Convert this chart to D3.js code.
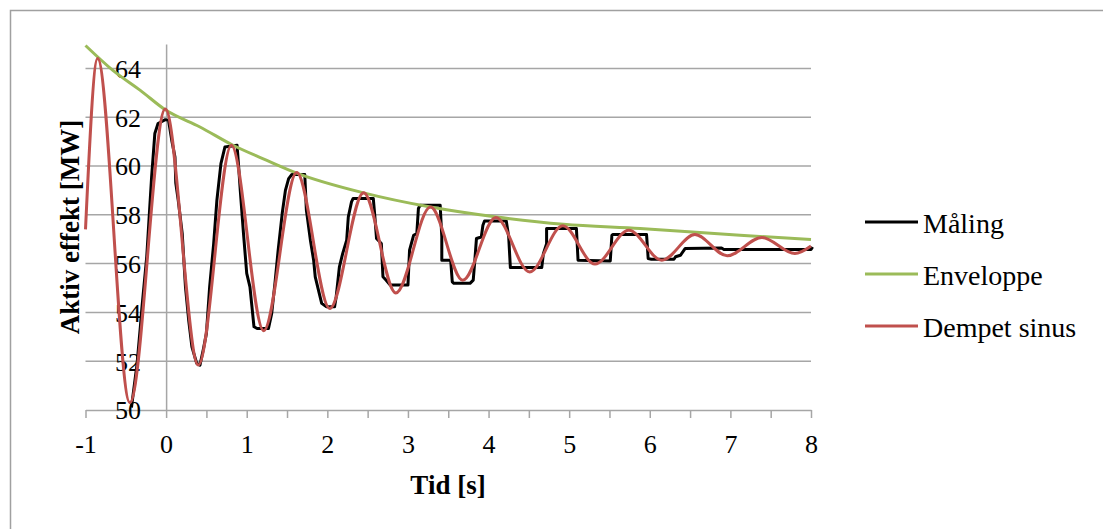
<!DOCTYPE html>
<html>
<head>
<meta charset="utf-8">
<script src="https://cdn.jsdelivr.net/npm/d3@7"></script>
<style>
  body { margin: 0; background: #fff; }
  text { font-family: "Liberation Serif", serif; fill: #000; }
</style>
</head>
<body>
<svg id="chart"></svg>
<script>
// Måling (measured, sample & hold look)
const malingT = [-0.43, -0.36, -0.32, -0.30, -0.24, -0.18, -0.14, -0.10, -0.01, 0.03, 0.07, 0.11, 0.12, 0.15,
  0.20, 0.24, 0.28, 0.32, 0.38, 0.42, 0.46, 0.50, 0.54, 0.59, 0.63, 0.68, 0.73, 0.88, 0.90, 0.92, 0.96, 1.00,
  1.04, 1.09, 1.13, 1.27, 1.31, 1.35, 1.39, 1.44, 1.48, 1.52, 1.56, 1.72, 1.74, 1.79, 1.83, 1.85, 1.89, 1.93,
  1.99, 2.09, 2.11, 2.15, 2.19, 2.24, 2.26, 2.30, 2.32, 2.57, 2.59, 2.61, 2.67, 2.69, 2.73, 2.78, 3.00, 3.02,
  3.07, 3.11, 3.13, 3.15, 3.40, 3.42, 3.42, 3.53, 3.55, 3.57, 3.77, 3.81, 3.83, 3.85, 3.91, 3.93, 3.95, 4.22,
  4.25, 4.27, 4.27, 4.66, 4.68, 4.72, 4.72, 5.09, 5.11, 5.51, 5.53, 5.54, 5.96, 5.98, 6.02, 6.30, 6.32, 6.38,
  6.44, 6.89, 6.92, 8.00, 8.02];
const malingV = [50.1, 51.9, 53.4, 54.2, 56.3, 59.55, 61.33, 61.74, 61.9, 61.87, 61.05, 60.37, 59.3, 58.6,
  57.23, 55.05, 53.68, 52.59, 51.91, 51.84, 52.46, 53.14, 55.05, 56.82, 58.6, 60.1, 60.78, 60.85, 59.96, 59.0, 57.23, 55.6,
  55.05, 53.41, 53.34, 53.34, 53.96, 55.19, 56.55, 58.05, 59.0, 59.48, 59.65, 59.65, 58.19, 56.96, 56.14, 55.46, 54.91, 54.37,
  54.23, 54.23, 54.64, 55.87, 56.41, 56.96, 57.91, 58.53, 58.67, 58.67, 57.91, 57.03, 56.82, 55.46, 55.32, 55.12, 55.12, 56.55,
  57.16, 57.23, 58.26, 58.39, 58.39, 57.09, 56.14, 56.14, 55.25, 55.19, 55.19, 55.32, 56.14, 57.03, 57.09, 57.57, 57.75, 57.75,
  57.09, 55.87, 55.84, 55.84, 56.41, 56.82, 57.44, 57.44, 56.14, 56.11, 57.16, 57.19, 57.19, 56.21, 56.18, 56.18, 56.28, 56.34,
  56.62, 56.64, 56.58, 56.58, 56.68];

// Enveloppe
const envT = [-1.0, -0.66, -0.32, 0.0, 0.42, 0.83, 1.25, 1.62, 2.45, 3.28, 4.10, 4.93, 5.88, 7.12, 8.0];
const envV = [64.94, 63.92, 63.10, 62.28, 61.60, 60.85, 60.23, 59.71, 58.90, 58.32, 57.91, 57.61, 57.44, 57.16, 56.99];

// Dempet sinus (peaks and troughs)
const sinT = [-1.0, -0.85, -0.45, -0.01, 0.40, 0.81, 1.21, 1.62, 2.03, 2.45, 2.85, 3.28, 3.68, 4.09, 4.51,
  4.92, 5.32, 5.74, 6.15, 6.56, 6.96, 7.39, 7.80, 8.0];
const sinV = [57.4, 64.41, 50.3, 62.34, 51.84, 60.85, 53.25, 59.73, 54.16, 58.90, 54.80, 58.32, 55.32, 57.89, 55.66,
  57.55, 55.98, 57.37, 56.14, 57.19, 56.32, 57.07, 56.41, 56.72];

const seriesNames = ["Måling", "Enveloppe", "Dempet sinus"];
const seriesColors = ["#000000", "#9BBB59", "#C0504D"];
const xTicks = d3.range(-1, 8.01, 0.5);
const yTicks = [50, 52, 54, 56, 58, 60, 62, 64];

const width = 1103, height = 529;
const svg = d3.select("#chart").attr("width", width).attr("height", height);

// outer frame
svg.append("rect")
  .attr("x", 10.5).attr("y", 10.5)
  .attr("width", width).attr("height", height)
  .attr("fill", "none").attr("stroke", "#a0a0a0").attr("stroke-width", 1.5);

const x = d3.scaleLinear().domain([-1, 8]).range([85.5, 811]);
const y = d3.scaleLinear().domain([50, 65]).range([410, 44]);

// grid
svg.append("g").selectAll("line")
  .data(yTicks.slice(1))
  .join("line")
  .attr("x1", x(-1)).attr("x2", x(8))
  .attr("y1", d => y(d)).attr("y2", d => y(d))
  .attr("stroke", "#a6a6a6").attr("stroke-width", 1.5);

// x axis
const xAxis = svg.append("g")
  .attr("transform", `translate(0,${y(50)})`)
  .call(d3.axisBottom(x).tickValues(xTicks).tickSize(8).tickSizeOuter(0)
    .tickFormat(d => Number.isInteger(d) ? d : ""));
xAxis.select(".domain").attr("stroke", "#a6a6a6").attr("stroke-width", 1.5);
xAxis.selectAll(".tick line").attr("stroke", "#a6a6a6").attr("stroke-width", 1.5);
xAxis.selectAll(".tick text")
  .attr("y", 43).attr("dy", null)
  .style("font-family", "'Liberation Serif', serif")
  .style("font-size", "26px").attr("fill", "#000");

// y axis at x = 0
const yAxis = svg.append("g")
  .attr("transform", `translate(${x(0)},0)`)
  .call(d3.axisLeft(y).tickValues(yTicks).tickSize(0).tickSizeOuter(0).tickPadding(25));
yAxis.select(".domain").attr("stroke", "#a6a6a6").attr("stroke-width", 1.5);
yAxis.selectAll(".tick text")
  .attr("dy", "0.34em")
  .style("font-family", "'Liberation Serif', serif")
  .style("font-size", "26px").attr("fill", "#000");

// titles
svg.append("text")
  .attr("x", 448).attr("y", 494)
  .attr("text-anchor", "middle")
  .style("font-size", "27px").style("font-weight", "bold")
  .text("Tid [s]");

svg.append("text")
  .attr("transform", "translate(79,227) rotate(-90)")
  .attr("text-anchor", "middle")
  .style("font-size", "27px").style("font-weight", "bold")
  .text("Aktiv effekt [MW]");

// lines
const toPts = (ts, vs) => ts.map((t, i) => [t, vs[i]]);

svg.append("path")
  .datum(toPts(malingT, malingV))
  .attr("fill", "none").attr("stroke", seriesColors[0]).attr("stroke-width", 3)
  .attr("stroke-linejoin", "round")
  .attr("d", d3.line().x(d => x(d[0])).y(d => y(d[1])));

svg.append("path")
  .datum(toPts(envT, envV))
  .attr("fill", "none").attr("stroke", seriesColors[1]).attr("stroke-width", 3)
  .attr("d", d3.line().curve(d3.curveMonotoneX).x(d => x(d[0])).y(d => y(d[1])));

svg.append("path")
  .datum(toPts(sinT, sinV))
  .attr("fill", "none").attr("stroke", seriesColors[2]).attr("stroke-width", 3)
  .attr("d", d3.line().curve(d3.curveMonotoneX).x(d => x(d[0])).y(d => y(d[1])));

// legend
const legendY = [222, 274, 326];
const legend = svg.append("g").selectAll("g")
  .data(seriesNames)
  .join("g")
  .attr("transform", (d, i) => `translate(865,${legendY[i]})`);
legend.append("line")
  .attr("x1", 0).attr("x2", 53)
  .attr("stroke", (d, i) => seriesColors[i]).attr("stroke-width", 3);
legend.append("text")
  .attr("x", 58).attr("y", 11)
  .style("font-size", "28px")
  .text(d => d);
</script>
</body>
</html>
